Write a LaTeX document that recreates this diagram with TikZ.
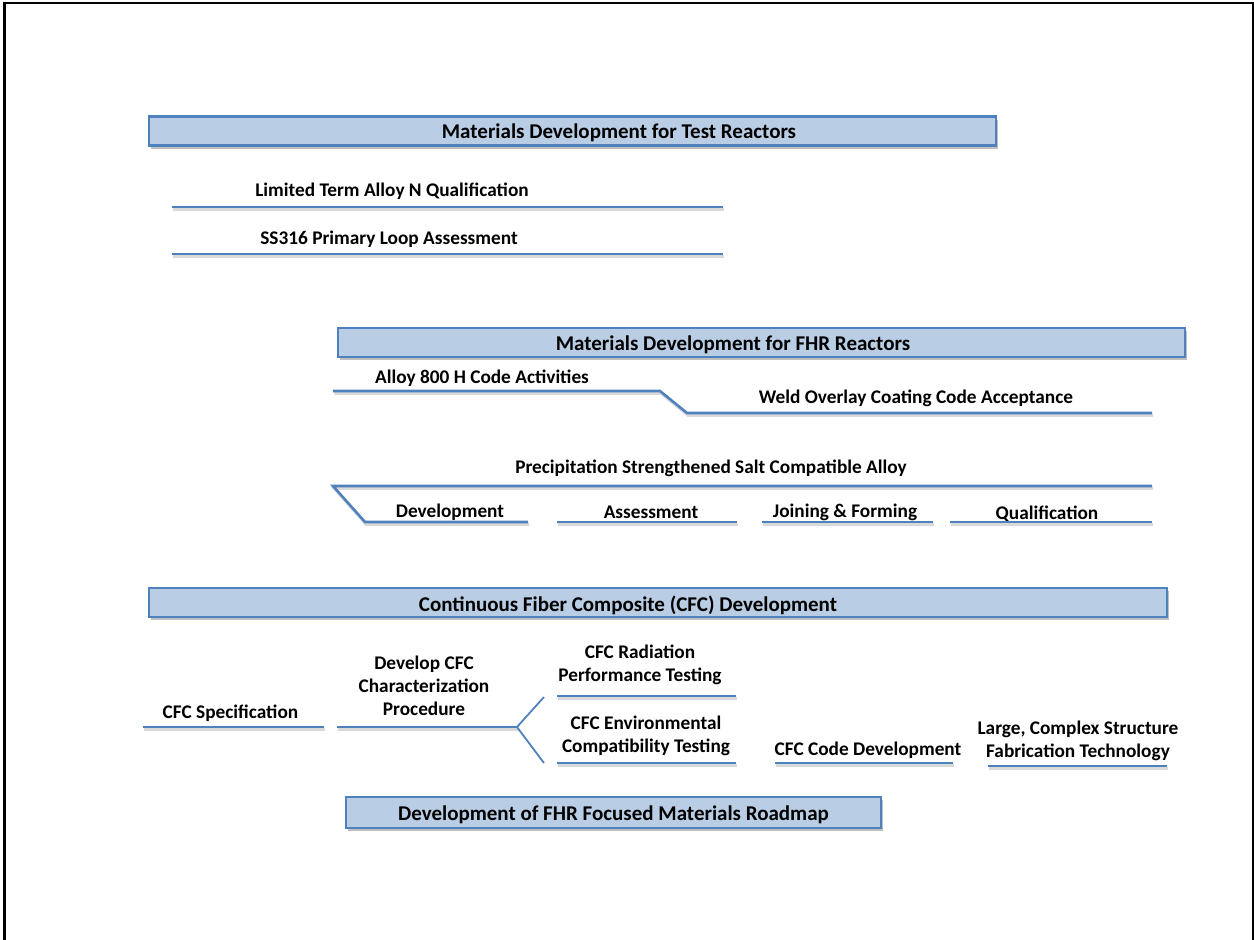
\documentclass[tikz,border=0pt]{standalone}
\usepackage{fontspec}
\setmainfont{Carlito}
\usetikzlibrary{positioning, shadows}

\definecolor{headfill}{HTML}{B9CDE5}
\definecolor{headline}{HTML}{4F81BD}

\tikzset{
	head/.style		= {draw = headline, fill = headfill, line width = 2.2pt, minimum height = 29pt, inner sep = 0pt,
					   drop shadow = {shadow xshift = 2pt, shadow yshift = -3pt, opacity = .25, fill = black}},
	task/.style		= {font = \bfseries\fontsize{19.3}{23}\selectfont, align = center, inner sep = 0pt, yshift = -2pt},
	title/.style	= {task, font = \bfseries\fontsize{21}{25}\selectfont},
	bar/.style		= {draw = headline, line width = 2.6pt,
					   preaction = {draw = black!15, line width = 2.6pt, transform canvas = {shift = {(1pt,-2.5pt)}}}},
	fork/.style		= {draw = headline, line width = 1.8pt}
}

\begin{document}
\begin{tikzpicture}[x = 1pt, y = -1pt]

\useasboundingbox (0,0) rectangle (1254,940);
\draw[line width = 2.3pt] (4.5,945) -- (4.5,3) -- (1253,3) -- (1253,945);

\node[head, minimum width = 847pt]		(test)		at (572.5,131)		{};
\node[title]						(testT)		at (619,131)		{Materials Development for Test Reactors};
\node[task]							(alloyn)	at (392,189)		{Limited Term Alloy N Qualification};
\node[task]							(ss316)		at (389,237)		{SS316 Primary Loop Assessment};

\node[head, minimum width = 847pt]		(fhr)		at (761.5,342.5)	{};
\node[title]						(fhrT)		at (733,343)		{Materials Development for FHR Reactors};
\node[task]							(a800)		at (482,376)		{Alloy 800 H Code Activities};
\node[task]							(weld)		at (916,396)		{Weld Overlay Coating Code Acceptance};
\node[task]							(psca)		at (711,466)		{Precipitation Strengthened Salt Compatible Alloy};
\node[task]							(dev)		at (450,510)		{Development};
\node[task]							(assess)	at (651,510)		{Assessment};
\node[task]							(join)		at (845,510)		{Joining \& Forming};
\node[task]							(qual)		at (1047,512)		{Qualification};

\node[head, minimum width = 1018pt]		(cfc)		at (658,602.5)		{};
\node[title]						(cfcT)		at (628,603)		{Continuous Fiber Composite (CFC) Development};
\node[task]							(spec)		at (230.5,711)		{CFC Specification};
\node[task]							(proc)		at (424,684)		{Develop CFC\\Characterization\\Procedure};
\node[task]							(rad)		at (640,662.5)		{CFC Radiation\\Performance Testing};
\node[task]							(env)		at (646,733.5)		{CFC Environmental\\Compatibility Testing};
\node[task]							(code)		at (868,748)		{CFC Code Development};
\node[task]							(large)		at (1078,739)		{Large, Complex Structure\\Fabrication Technology};

\node[head, minimum width = 535pt, minimum height = 31pt]	(road)	at (613.5,812.5)	{};
\node[title]						(roadT)		at (road)			{Development of FHR Focused Materials Roadmap};

\draw[bar] (172,207) -- (723,207);
\draw[bar] (172,254) -- (723,254);
\draw[bar] (333,391) -- (660,391) -- (687,413) -- (1152,413);
\draw[bar] (1152,486) -- (333,486) -- (365,522) -- (528,522);
\draw[bar] (557,522) -- (737,522);
\draw[bar] (762,522) -- (933,522);
\draw[bar] (950,522) -- (1152,522);

\coordinate (procR)	at (517,727);
\coordinate (radL)	at (544,697);
\coordinate (envL)	at (544,763);

\draw[bar] (143,727) -- (324,727);
\draw[bar] (337,727) -- (procR);
\draw[bar] (557,696) -- (736,696);
\draw[bar] (557,763) -- (736,763);
\draw[bar] (775,763) -- (953,763);
\draw[bar] (988,766) -- (1167,766);
\path[fork] (procR) -- (radL);
\path[fork] (procR) -- (envL);

\end{tikzpicture}
\end{document}
